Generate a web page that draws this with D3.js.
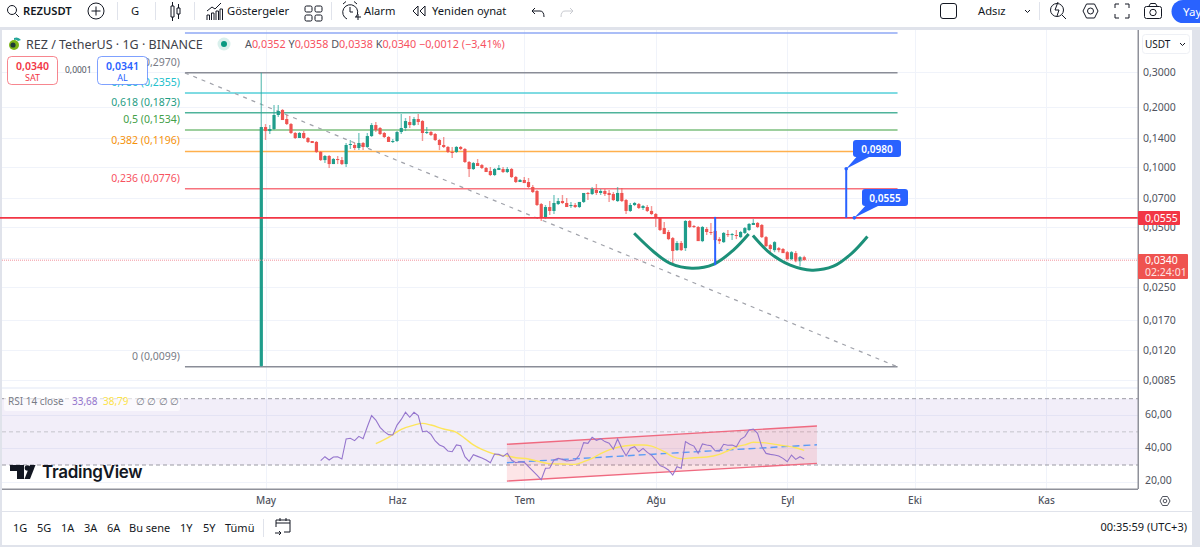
<!DOCTYPE html>
<html>
<head>
<meta charset="utf-8">
<title>REZUSDT</title>
<script src="https://cdn.jsdelivr.net/npm/d3@7"></script>
<style>
  html, body { margin: 0; padding: 0; background: #e0e3eb; overflow: hidden; }
  svg { display: block; }
  text { font-family: "Noto Sans", "Open Sans", sans-serif; }
  .domain { display: none; }
  .tick line { display: none; }
</style>
</head>
<body>
<script>
// candles, one per day from 30 April
const firstDay = new Date(Date.UTC(2024, 3, 30));
const opens = [.0100,.1587,.1515,.1551,.1824,.1932,.1741,.1643,.1481,.1398,.1481,.1398,.1350,.1335,.1189,.1083,.1135,.1034,.1096,.1083,.1034,.1289,.1289,.1245,.1319,.1260,.1430,.1624,.1569,.1481,.1414,.1335,.1350,.1498,.1569,.1682,.1624,.1741,.1701,.1481,.1498,.1464,.1366,.1289,.1260,.1189,.1189,.1260,.1231,.1059,.0976,.1046,.1022,.0988,.0954,.0911,.0965,.0976,.0943,.0976,.0890,.0840,.0860,.0840,.0793,.0757,.0651,.0554,.0629,.0601,.0651,.0674,.0659,.0636,.0644,.0629,.0667,.0740,.0731,.0766,.0740,.0757,.0740,.0731,.0674,.0740,.0682,.0601,.0644,.0651,.0622,.0629,.0601,.0580,.0554,.0493,.0471,.0439,.0382,.0415,.0391,.0535,.0505,.0499,.0424,.0488,.0471,.0477,.0434,.0419,.0460,.0455,.0455,.0444,.0466,.0482,.0511,.0523,.0511,.0444,.0405,.0382,.0391,.0387,.0373,.0344,.0369,.0336,.0352];
const highs = [.2970,.1643,.1624,.2048,.2048,.1955,.1824,.1662,.1498,.1498,.1515,.1414,.1350,.1350,.1202,.1148,.1148,.1109,.1135,.1122,.1319,.1366,.1319,.1481,.1335,.1481,.1662,.1682,.1587,.1498,.1430,.1382,.1515,.1845,.1761,.1803,.1782,.1845,.1721,.1587,.1515,.1481,.1382,.1414,.1274,.1260,.1274,.1274,.1245,.1071,.1059,.1096,.1034,.0999,.0999,.0988,.1022,.0999,.0999,.0988,.0900,.0870,.0890,.0880,.0811,.0766,.0659,.0644,.0674,.0723,.0698,.0723,.0698,.0667,.0659,.0667,.0740,.0748,.0793,.0821,.0775,.0775,.0766,.0748,.0793,.0784,.0690,.0659,.0667,.0659,.0644,.0644,.0636,.0587,.0554,.0529,.0482,.0444,.0424,.0424,.0541,.0541,.0511,.0505,.0505,.0499,.0523,.0482,.0444,.0471,.0482,.0466,.0482,.0477,.0499,.0523,.0547,.0529,.0517,.0450,.0410,.0424,.0396,.0391,.0378,.0378,.0378,.0357,.0358];
const lows = [.0099,.1366,.1464,.1533,.1782,.1721,.1624,.1464,.1382,.1398,.1382,.1319,.1319,.1175,.1071,.1046,.0988,.1034,.1034,.1022,.0999,.1231,.1216,.1216,.1216,.1245,.1414,.1498,.1447,.1398,.1335,.1319,.1335,.1464,.1515,.1569,.1606,.1624,.1350,.1464,.1430,.1350,.1216,.1245,.1175,.1109,.1175,.1216,.1046,.0890,.0965,.1011,.0976,.0943,.0900,.0900,.0965,.0932,.0932,.0880,.0830,.0840,.0830,.0784,.0740,.0636,.0535,.0547,.0573,.0580,.0644,.0651,.0629,.0622,.0622,.0622,.0659,.0682,.0723,.0723,.0723,.0714,.0667,.0674,.0667,.0667,.0580,.0594,.0636,.0615,.0607,.0594,.0573,.0499,.0477,.0460,.0429,.0329,.0378,.0378,.0378,.0493,.0493,.0424,.0419,.0455,.0455,.0415,.0410,.0415,.0444,.0429,.0434,.0439,.0460,.0477,.0511,.0493,.0439,.0396,.0373,.0373,.0373,.0369,.0340,.0340,.0332,.0317,.0338];
const closes = [.1587,.1515,.1551,.1824,.1910,.1721,.1643,.1481,.1398,.1481,.1398,.1335,.1319,.1189,.1083,.1135,.1034,.1096,.1083,.1034,.1289,.1304,.1245,.1319,.1260,.1430,.1624,.1533,.1464,.1414,.1335,.1350,.1498,.1569,.1701,.1624,.1741,.1682,.1481,.1498,.1447,.1366,.1289,.1260,.1189,.1175,.1260,.1231,.1059,.0976,.1046,.1011,.0988,.0943,.0911,.0976,.0988,.0943,.0976,.0890,.0840,.0860,.0830,.0793,.0748,.0644,.0554,.0629,.0601,.0659,.0674,.0659,.0629,.0644,.0629,.0667,.0740,.0731,.0775,.0740,.0757,.0731,.0723,.0682,.0740,.0674,.0601,.0644,.0659,.0622,.0636,.0601,.0580,.0554,.0482,.0460,.0434,.0378,.0415,.0382,.0535,.0499,.0499,.0424,.0499,.0471,.0466,.0429,.0424,.0466,.0455,.0460,.0450,.0471,.0493,.0517,.0523,.0499,.0444,.0400,.0387,.0419,.0382,.0369,.0344,.0373,.0336,.0352,.0340];

// rsi starts at candle 14
const rsiStart = 14;
const rsiValues = [32.6,35.0,33.0,34.8,35.0,33.6,45.7,46.1,44.7,47.3,45.9,53.1,59.8,57.1,52.7,50.1,48.3,48.1,54.1,57.5,61.8,58.8,61.8,59.8,50.1,50.5,48.5,44.5,42.1,41.0,38.4,38.0,42.1,41.6,35.0,32.2,36.2,35.2,34.2,33.0,31.4,36.6,36.4,35.2,37.0,33.0,31.4,32.0,31.6,29.0,26.4,23.9,21.1,28.0,28.2,33.0,34.0,33.4,32.4,32.8,33.0,36.0,43.5,43.1,46.7,44.9,45.9,44.1,43.1,39.6,45.7,40.0,35.6,40.0,41.0,38.0,40.0,37.6,36.0,33.0,29.6,28.6,27.0,23.9,29.0,28.0,44.1,42.5,41.4,37.0,42.7,42.1,41.6,38.6,38.4,42.5,41.9,42.1,41.0,45.5,47.1,51.1,51.7,49.1,41.0,37.0,36.4,36.0,35.4,34.0,32.0,36.0,33.4,35.0,33.68];
const rsiMaDays = [27,30,33,36,38,40,43,46,48,50,52,55,58,60,63,65,68,71,74,76,78,80,83,86,88,90,92,95,97,99,102,105,108,110,112,114,116,118,120,122,124,126,128];
const rsiMaValues = [42.9,46.7,51.5,54.1,55.1,54.1,51.7,49.7,46.1,42.1,39.4,36.6,35.4,34.4,33.6,32.4,30.8,30.6,30.4,32.0,34.0,36.8,40.0,41.6,42.1,42.1,41.4,38.0,35.0,33.8,34.4,34.8,36.4,38.6,41.0,42.1,43.7,43.5,42.9,42.1,41.4,40.4,38.79];

// axes
const priceTicks = [.3,.2,.14,.1,.07,.05,.035,.025,.017,.012,.0085];
const rsiTicks = [60,40,20];
const rsiBands = [70,50,30];
const monthDays = [1,32,62,93,124,154,185];
const monthLabels = ["May","Haz","Tem","Ağu","Eyl","Eki","Kas"];

// fib retracement
const fibRatios = ["1","0,786","0,618","0,5","0,382","0,236","0"];
const fibPrices = [.2970,.2355,.1873,.1534,.1196,.0776,.0099];
const fibColors = ["#8a8d97","#55cfd8","#4fb39b","#7cbf7e","#ffb04d","#f7737d","#8a8d97"];
const fibTextColors = ["#787b86","#22c0cc","#1f9d84","#43a047","#f5920a","#f7525f","#787b86"];
const fibTopPrice = .4710;
const fibFromDay = -18, fibToDay = 150;

// drawings
const resistance = .0555;
const lastPrice = .0340;
const arcOneDays = [87.9,92.5,96.4,101.5,106.6,111.3,114.9];
const arcOnePrices = [.0464,.0375,.0328,.0310,.0324,.0382,.0460];
const arcTwoDays = [115.9,120,124.7,129.8,134.9,139.2,142.9];
const arcTwoPrices = [.0452,.0368,.0321,.0303,.0317,.0368,.0447];
const channelDays = [57.9,131];
const channelTop = [42.5,53.5];
const channelMid = [31.4,42.2];
const channelBottom = [20.3,31.0];

const w = 1200, h = 547;
const up = "#26a69a", down = "#ef5350";
const axisX = 1138, timeY = 489, topY = 30;
const grey = "#50535e", ink = "#131722", gridCol = "#f0f3fa";

const day = (n) => d3.utcDay.offset(firstDay, Math.floor(n)).getTime() + (n - Math.floor(n)) * 864e5;

const x = d3.scaleUtc().domain([day(0), day(185)]).range([261.3, 1046]);
const y = d3.scaleLog().domain([.3, .0085]).range([72, 380]);
const yRsi = d3.scaleLinear().domain([70, 30]).range([398.7, 465]);
const xd = (n) => x(day(n));
const comma = d3.formatLocale({decimal: ",", thousands: ".", grouping: [3], currency: ["", ""]});

const svg = d3.select("body").append("svg").attr("width", w).attr("height", h);

// panels
svg.append("rect").attr("width", w).attr("height", 27).attr("fill", "#fff");
svg.append("rect").attr("x", 2).attr("y", topY).attr("width", 1190).attr("height", 481).attr("fill", "#fff");
svg.append("rect").attr("x", 2).attr("y", 512).attr("width", 1190).attr("height", 33).attr("fill", "#fff");

// grid
const grid = svg.append("g").attr("stroke", gridCol).attr("stroke-width", 1);
grid.selectAll(".gx").data(monthDays).enter().append("line")
  .attr("x1", d => Math.round(xd(d)) + .5).attr("x2", d => Math.round(xd(d)) + .5)
  .attr("y1", topY).attr("y2", timeY);
grid.selectAll(".gy").data(priceTicks).enter().append("line")
  .attr("x1", 2).attr("x2", axisX)
  .attr("y1", d => Math.round(y(d)) + .5).attr("y2", d => Math.round(y(d)) + .5);
grid.selectAll(".gr").data([60,40,20]).enter().append("line")
  .attr("x1", 2).attr("x2", axisX)
  .attr("y1", d => Math.round(yRsi(d)) + .5).attr("y2", d => Math.round(yRsi(d)) + .5);
svg.append("rect").attr("x", 2).attr("y", 387).attr("width", axisX - 2).attr("height", 2).attr("fill", gridCol);

// rsi band
svg.append("rect").attr("x", 2).attr("y", yRsi(70)).attr("width", axisX - 2)
  .attr("height", yRsi(30) - yRsi(70)).attr("fill", "#7e57c2").attr("opacity", .1);
svg.selectAll(".band").data(rsiBands).enter().append("line")
  .attr("x1", 2).attr("x2", axisX)
  .attr("y1", d => yRsi(d)).attr("y2", d => yRsi(d))
  .attr("stroke", d => d == 50 ? "#c4c4cb" : "#9a9aa3").attr("stroke-dasharray", "4 3");

// channel on rsi
const channelArea = d3.area().x((d, i) => xd(channelDays[i])).y0((d, i) => yRsi(channelBottom[i])).y1(d => yRsi(d));
svg.append("path").attr("d", channelArea(channelTop)).attr("fill", "#f23645").attr("opacity", .13);
const chanLine = d3.line().x((d, i) => xd(channelDays[i])).y(d => yRsi(d));
svg.append("path").attr("d", chanLine(channelTop)).attr("fill", "none").attr("stroke", "#ef6a80").attr("stroke-width", 1.4);
svg.append("path").attr("d", chanLine(channelBottom)).attr("fill", "none").attr("stroke", "#ef6a80").attr("stroke-width", 1.4);
svg.append("path").attr("d", chanLine(channelMid)).attr("fill", "none").attr("stroke", "#5b9cf6").attr("stroke-width", 1.4).attr("stroke-dasharray", "7 4");

// rsi lines
const rsiMaLine = d3.line().x((d, i) => xd(rsiMaDays[i])).y(d => yRsi(d)).curve(d3.curveMonotoneX);
svg.append("path").attr("d", rsiMaLine(rsiMaValues)).attr("fill", "none").attr("stroke", "#fde55c").attr("stroke-width", 1.4);
const rsiLine = d3.line().x((d, i) => xd(rsiStart + i)).y(d => yRsi(d));
svg.append("path").attr("d", rsiLine(rsiValues)).attr("fill", "none").attr("stroke", "#9575cd").attr("stroke-width", 1.1);

// fib
const fib = svg.append("g");
fib.append("line").attr("x1", xd(fibFromDay)).attr("x2", xd(fibToDay))
  .attr("y1", y(fibTopPrice)).attr("y2", y(fibTopPrice)).attr("stroke", "#8fa8f5").attr("stroke-width", 1.5);
fib.selectAll("line.lv").data(fibPrices).enter().append("line").attr("class", "lv")
  .attr("x1", xd(fibFromDay)).attr("x2", xd(fibToDay))
  .attr("y1", d => y(d)).attr("y2", d => y(d))
  .attr("stroke-width", 1.5)
  .attr("stroke", (d, i) => fibColors[i]);
fib.selectAll("text").data(fibPrices).enter().append("text")
  .attr("x", xd(fibFromDay) - 5).attr("y", d => y(d) - 7)
  .attr("text-anchor", "end").attr("font-size", 10.5)
  .attr("fill", (d, i) => fibTextColors[i])
  .text((d, i) => fibRatios[i] + " (" + comma.format(".4f")(d) + ")");
fib.append("line").attr("x1", xd(fibFromDay)).attr("y1", y(fibPrices[0]))
  .attr("x2", xd(fibToDay)).attr("y2", y(fibPrices[6]))
  .attr("stroke", "#a0a2aa").attr("stroke-width", 1.2).attr("stroke-dasharray", "4 5");

// candles
const candles = svg.append("g");
candles.selectAll(".wick").data(opens).enter().append("line")
  .attr("x1", (d, i) => xd(i)).attr("x2", (d, i) => xd(i))
  .attr("y1", (d, i) => y(highs[i])).attr("y2", (d, i) => y(lows[i]))
  .attr("stroke-width", 1.4)
  .attr("stroke", (d, i) => closes[i] >= d ? up : down).attr("stroke-opacity", .6);
candles.selectAll("rect").data(opens).enter().append("rect")
  .attr("x", (d, i) => xd(i) - 1.6).attr("width", 3.2)
  .attr("y", (d, i) => y(Math.max(d, closes[i])))
  .attr("height", (d, i) => Math.max(1, y(Math.min(d, closes[i])) - y(Math.max(d, closes[i]))))
  .attr("fill", (d, i) => closes[i] >= d ? "#1f9d8b" : down);

// price lines
svg.append("line").attr("x1", 2).attr("x2", axisX).attr("y1", y(lastPrice)).attr("y2", y(lastPrice))
  .attr("stroke", "#f2919a").attr("stroke-dasharray", "1 1");
svg.append("line").attr("x1", 0).attr("x2", axisX).attr("y1", y(resistance)).attr("y2", y(resistance))
  .attr("stroke", "#f23645").attr("stroke-width", 1.6);

// cup arcs
const arc = d3.line().curve(d3.curveCatmullRom);
[[arcOneDays, arcOnePrices], [arcTwoDays, arcTwoPrices]].forEach(([ds, ps]) => {
  svg.append("path").attr("d", arc(ds.map((d, i) => [xd(d), y(ps[i])])))
    .attr("fill", "none").attr("stroke", "#1c9079").attr("stroke-width", 3);
});

// blue measure lines
svg.append("line").attr("x1", xd(107)).attr("x2", xd(107)).attr("y1", y(.0561)).attr("y2", y(.0321))
  .attr("stroke", "#2962ff").attr("stroke-width", 2);
svg.append("line").attr("x1", xd(137.9)).attr("x2", xd(137.9)).attr("y1", y(.0980)).attr("y2", y(.0555))
  .attr("stroke", "#2962ff").attr("stroke-width", 2);

// callouts
function callout(bx, by, bw, label, px, py) {
  svg.append("path").attr("d", `M${bx + 6},${by + 14} L${px},${py} L${bx + 16},${by + 17} Z`).attr("fill", "#2962ff");
  svg.append("rect").attr("x", bx).attr("y", by).attr("width", bw).attr("height", 17).attr("rx", 3).attr("fill", "#2962ff");
  svg.append("text").attr("x", bx + bw / 2).attr("y", by + 12.5).attr("text-anchor", "middle")
    .attr("font-size", 10).attr("font-weight", 600).attr("fill", "#fff").text(label);
  svg.append("circle").attr("cx", px).attr("cy", py).attr("r", 1.8).attr("fill", "#2962ff");
}
callout(853, 140, 48, "0,0980", xd(137.9), y(.0980));
callout(862, 189, 46, "0,0555", xd(139.8), y(resistance));

// legend
svg.append("circle").attr("cx", 14).attr("cy", 45).attr("r", 5).attr("fill", "#7cb518");
svg.append("circle").attr("cx", 13).attr("cy", 45).attr("r", 2.6).attr("fill", "#1d3b35");
svg.append("path").attr("d", "M14,38 a6,6 0 0 1 7,2 l-3,1 a4,4 0 0 0 -4,-1 Z").attr("fill", "#26a69a");
svg.append("text").attr("x", 26).attr("y", 48.5).attr("font-size", 12.5).attr("fill", "#3e4149")
  .text("REZ / TetherUS · 1G · BINANCE");
svg.append("circle").attr("cx", 224).attr("cy", 44).attr("r", 6.5).attr("fill", "#d9f0ec");
svg.append("circle").attr("cx", 224).attr("cy", 44).attr("r", 3).attr("fill", "#089981");
const ohlcText = svg.append("text").attr("x", 245).attr("y", 47.5).attr("font-size", 10.8).attr("fill", "#f7525f");
[["A","0,0352"],["Y","0,0358"],["D","0,0338"],["K","0,0340"]].forEach(([a, b]) => {
  ohlcText.append("tspan").attr("fill", grey).text(a);
  ohlcText.append("tspan").text(b + " ");
});
ohlcText.append("tspan").text("−0,0012 (−3,41%)");

function tradeBox(bx, col, price, label) {
  svg.append("rect").attr("x", bx + .5).attr("y", 56.5).attr("width", 50).attr("height", 28).attr("rx", 4)
    .attr("fill", "#fff").attr("stroke", col).attr("stroke-opacity", .6);
  svg.append("text").attr("x", bx + 25.5).attr("y", 69.5).attr("text-anchor", "middle")
    .attr("font-size", 10.5).attr("font-weight", 600).attr("fill", col).text(price);
  svg.append("text").attr("x", bx + 25.5).attr("y", 81).attr("text-anchor", "middle")
    .attr("font-size", 9).attr("fill", col).text(label);
}
tradeBox(7, "#f23645", "0,0340", "SAT");
svg.append("text").attr("x", 65).attr("y", 73).attr("font-size", 8.5).attr("fill", grey).text("0,0001");
tradeBox(97, "#2962ff", "0,0341", "AL");

// rsi legend
svg.append("rect").attr("x", 4).attr("y", 393).attr("width", 176).attr("height", 18).attr("rx", 2).attr("fill", "#fff").attr("opacity", .65);
const rsiText = svg.append("text").attr("x", 8).attr("y", 405).attr("font-size", 10).attr("fill", "#787b86");
rsiText.append("tspan").text("RSI 14 close");
rsiText.append("tspan").attr("x", 72).attr("fill", "#9575cd").text("33,68");
rsiText.append("tspan").attr("x", 103).attr("fill", "#fbe34a").text("38,79");
rsiText.append("tspan").attr("x", 136).text("∅");
rsiText.append("tspan").attr("x", 147).text("∅");
rsiText.append("tspan").attr("x", 159).text("∅");
rsiText.append("tspan").attr("x", 170).text("∅");

// tradingview mark
svg.append("path").attr("d", "M10,465 H24 V479 H17 V471 H10 Z").attr("fill", ink);
svg.append("circle").attr("cx", 27.5).attr("cy", 468).attr("r", 2.8).attr("fill", ink);
svg.append("path").attr("d", "M30,465 H35.5 L30,479 H24.5 Z").attr("fill", ink);
svg.append("text").attr("x", 42).attr("y", 478).attr("font-size", 17).attr("font-weight", 600)
  .style("font-family", "Inter, sans-serif").attr("letter-spacing", "-.3").attr("fill", ink).text("TradingView");

// axes
svg.append("rect").attr("x", 2).attr("y", timeY - .5).attr("width", axisX - 2).attr("height", 1.5).attr("fill", "#8f919a");
svg.append("rect").attr("x", axisX - .5).attr("y", topY).attr("width", 1.5).attr("height", timeY - topY).attr("fill", "#8f919a");

// 0,0350 sits fully under the last price label, so it gets a grid line but no text
const priceAxis = d3.axisRight(y).tickValues(priceTicks.filter(d => d != .035)).tickSize(0).tickPadding(5)
  .tickFormat(comma.format(".4f"));
svg.append("g").attr("transform", "translate(" + axisX + ",0)").call(priceAxis)
  .call(g => g.selectAll("text").attr("font-size", 10.5).attr("fill", grey).style("font-family", "Noto Sans"));

const rsiAxis = d3.axisRight(yRsi).tickValues(rsiTicks).tickSize(0).tickPadding(7)
  .tickFormat(comma.format(".2f"));
svg.append("g").attr("transform", "translate(" + axisX + ",-1)").call(rsiAxis)
  .call(g => g.selectAll("text").attr("font-size", 10.5).attr("fill", grey).style("font-family", "Noto Sans"));

const timeAxis = d3.axisBottom(x).tickValues(monthDays.map(day)).tickSize(0).tickPadding(8)
  .tickFormat((d, i) => monthLabels[i]);
svg.append("g").attr("transform", "translate(0," + timeY + ")").call(timeAxis)
  .call(g => g.selectAll("text").attr("font-size", 10).attr("font-weight", 500).attr("fill", grey).style("font-family", "Noto Sans"));

// usdt button
svg.append("rect").attr("x", 1142.5).attr("y", 34.5).attr("width", 47).attr("height", 19).attr("rx", 3).attr("fill", "#fff").attr("stroke", "#eef0f5");
svg.append("text").attr("x", 1145).attr("y", 48).attr("font-size", 10).attr("fill", ink).text("USDT");
svg.append("path").attr("d", "M1180,43 l2.5,2.5 l2.5,-2.5").attr("fill", "none").attr("stroke", ink);

// price labels
svg.append("rect").attr("x", axisX).attr("y", 211).attr("width", 42).attr("height", 14).attr("rx", 1).attr("fill", "#f23645");
svg.append("text").attr("x", axisX + 7).attr("y", 222).attr("font-size", 10.5).attr("fill", "#fff").text("0,0555");
svg.append("rect").attr("x", axisX).attr("y", 254).attr("width", 50).attr("height", 25).attr("rx", 1).attr("fill", "#ef5350");
svg.append("text").attr("x", axisX + 7).attr("y", 264).attr("font-size", 10.5).attr("fill", "#fff").text("0,0340");
svg.append("text").attr("x", axisX + 7).attr("y", 276).attr("font-size", 10.5).attr("fill", "#fde3e3").text("02:24:01");

// toolbar
const bar = svg.append("g").attr("fill", "none").attr("stroke", ink).attr("stroke-width", 1);
bar.append("circle").attr("cx", 12).attr("cy", 10).attr("r", 4.5);
bar.append("path").attr("d", "M15.5,13.5 L19,17");
bar.append("circle").attr("cx", 96).attr("cy", 11).attr("r", 8);
bar.append("path").attr("d", "M96,6.5 V15.5 M91.5,11 H100.5");
bar.append("path").attr("d", "M171,6 h3 v11 h-3 z M172.5,2 v4 M172.5,17 v4 M177,8 h3 v6 h-3 z M178.5,4 v4 M178.5,14 v5");
bar.append("path").attr("d", "M207,20 v-5 h2.5 v5 M211.5,20 v-7 h2.5 v7 M216,20 v-9 h2.5 v9 M220,20 v-11 h2.5 v11 M207,11 l5,-4 l3,2 l6,-6");
[[305,6],[315,6],[305,15],[315,15]].forEach(p => bar.append("rect").attr("x", p[0]).attr("y", p[1]).attr("width", 7).attr("height", 6).attr("rx", 1.5));
bar.append("path").attr("d", "M356,17 a7.5,7.5 0 1 0 -9,2 M350,7 v5 h3 M343,4 l3,-2.5 M357,4 l-3,-2.5 M355,17 h6 M358,14 v6");
bar.append("path").attr("d", "M418,6 l-5,5 l5,5 z M425,6 l-5,5 l5,5 z");
bar.append("path").attr("d", "M532,11 l3,-3 M532,11 l3,3 M532,11 h8 q4,0 4,6");
bar.append("path").attr("stroke", "#c8cad0").attr("d", "M573,11 l-3,-3 M573,11 l-3,3 M573,11 h-8 q-4,0 -4,6");
bar.append("rect").attr("x", 940.5).attr("y", 3.5).attr("width", 16).attr("height", 15).attr("rx", 2.5);
bar.append("path").attr("d", "M1025,10 l2.5,2.5 l2.5,-2.5");
bar.append("circle").attr("cx", 1057).attr("cy", 10).attr("r", 6.5);
bar.append("path").attr("d", "M1058,2 l-3,8 h4 l-2,6 M1062,15 l4,4");
bar.append("path").attr("d", "M1083,11 l3.5,-7 h8 l3.5,7 l-3.5,7 h-8 z");
bar.append("circle").attr("cx", 1090.5).attr("cy", 11).attr("r", 3);
bar.append("path").attr("d", "M1115,8 v-4 h4 M1125,4 h4 v4 M1129,14 v4 h-4 M1119,18 h-4 v-4");
bar.append("rect").attr("x", 1144.5).attr("y", 6.5).attr("width", 17).attr("height", 12).attr("rx", 2);
bar.append("circle").attr("cx", 1153).attr("cy", 12.5).attr("r", 3.2);
bar.append("path").attr("d", "M1149,6 l1.5,-2.5 h5 l1.5,2.5");

svg.selectAll(".sep").data([117,155,194,331,1039,263]).enter().append("rect")
  .attr("x", d => d).attr("y", (d, i) => i == 5 ? 519 : 2).attr("width", 1).attr("height", 18).attr("fill", "#e0e3eb");

const barText = [["REZUSDT",23,600],["G",131,400],["Göstergeler",227,400],["Alarm",364,400],["Yeniden oynat",432,400],["Adsız",978,400]];
svg.selectAll(".bt").data(barText).enter().append("text")
  .attr("x", d => d[1]).attr("y", 15).attr("font-size", 11.2).attr("font-weight", d => d[2]).attr("fill", ink).text(d => d[0]);

svg.append("path").attr("d", "M1200,0 H1183 a11.5,11.5 0 0 0 0,23 H1200 Z").attr("fill", "#2962ff");
svg.append("text").attr("x", 1183).attr("y", 15.5).attr("font-size", 11.5).attr("fill", "#fff").text("Yay");

// range bar
const ranges = [["1G",13],["5G",37],["1A",61],["3A",84],["6A",107],["Bu sene",129],["1Y",180],["5Y",203],["Tümü",225]];
svg.selectAll(".rg").data(ranges).enter().append("text")
  .attr("x", d => d[1]).attr("y", 532).attr("font-size", 11).attr("fill", ink).text(d => d[0]);
bar.append("path").attr("d", "M276,527 v-7 h14 v12 h-6 M276,523 h14 M280,518 v3 M286,518 v3 M275,533 h6 M279,531 l2,2 l-2,2");
svg.append("text").attr("x", 1187).attr("y", 531).attr("text-anchor", "end").attr("font-size", 11).attr("fill", ink).text("00:35:59 (UTC+3)");

// gear
bar.append("path").attr("stroke", grey).attr("d", "M1160,501 l2.5,-4.5 h5 l2.5,4.5 l-2.5,4.5 h-5 z");
bar.append("circle").attr("stroke", grey).attr("cx", 1165).attr("cy", 501).attr("r", 1.8);
</script>
</body>
</html>
